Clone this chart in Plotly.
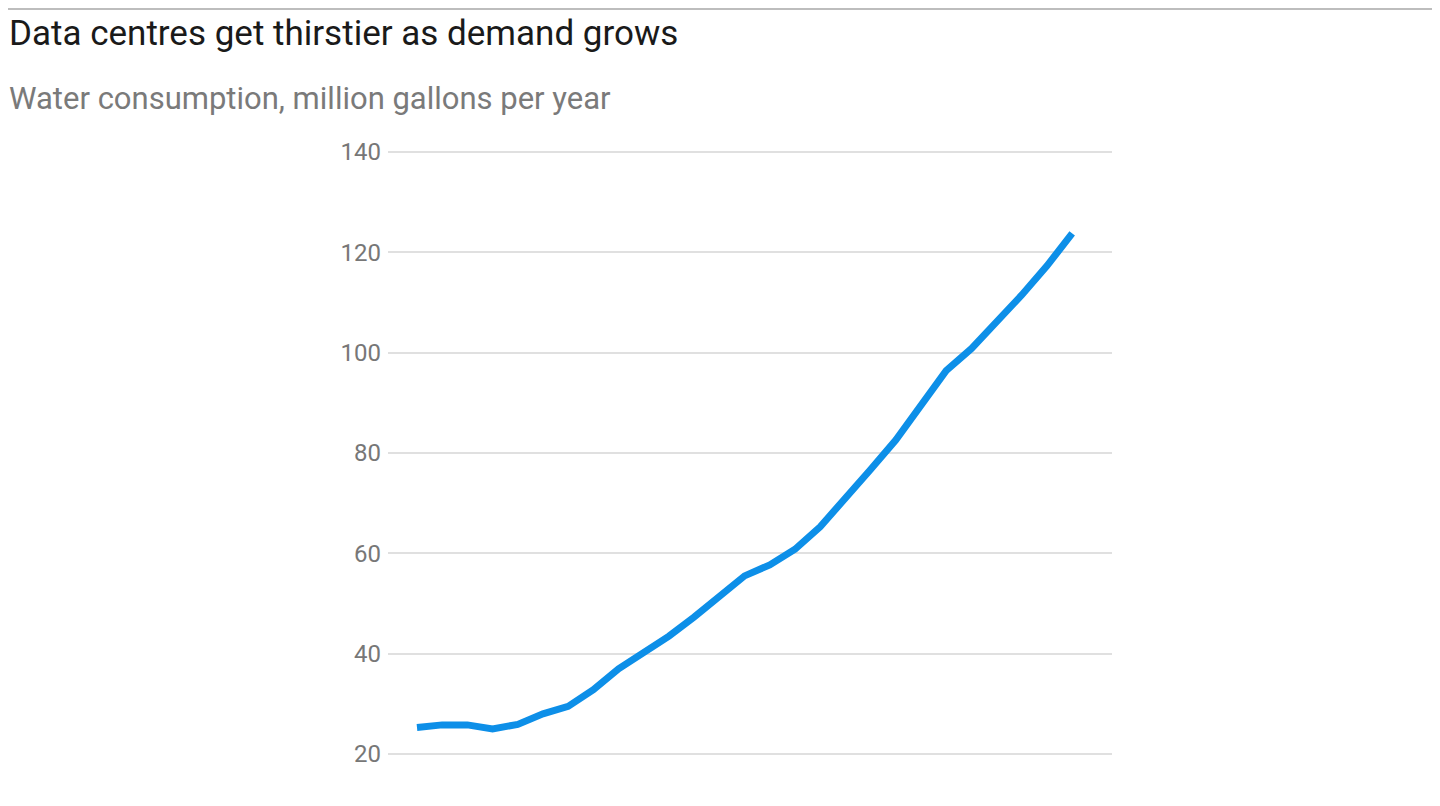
import plotly.graph_objects as go

# periods are unlabelled in the source chart, so just an index
periods = list(range(27))
water_use = [25.3, 25.8, 25.8, 25.0, 25.9, 28.0, 29.5, 32.8, 37.0, 40.3,
             43.5, 47.3, 51.3, 55.5, 57.7, 60.8, 65.3, 70.8, 76.7, 82.6,
             89.8, 96.4, 100.8, 106.0, 111.5, 117.3, 123.8]
y_ticks = [20, 40, 60, 80, 100, 120, 140]

# the page body has an 8px margin, so the figure is a bit smaller
W, H = 1432, 798
L, R, T, B = 380, 328, 139, 47
pw, ph = W - L - R, H - T - B


def px_x(p):
    return (p - L) / pw


def px_y(p):
    return (H - B - p) / ph


fig = go.Figure(go.Scatter(
    x=periods,
    y=water_use,
    mode="lines",
    line=dict(color="#0d8fe8", width=7),
    hoverinfo="skip",
))

fig.add_shape(type="line", xref="paper", yref="paper",
              x0=px_x(0), x1=px_x(W), y0=px_y(1), y1=px_y(1),
              line=dict(color="#bdbdbd", width=2))

fig.add_annotation(
    text="Data centres get thirstier as demand grows",
    xref="paper", yref="paper", x=px_x(-1), y=px_y(25),
    xanchor="left", yanchor="middle", showarrow=False,
    font=dict(family="Roboto, Inter, sans-serif", size=35, color="#1a1a1a"),
)
fig.add_annotation(
    text="Water consumption, million gallons per year",
    xref="paper", yref="paper", x=px_x(-1), y=px_y(90),
    xanchor="left", yanchor="middle", showarrow=False,
    font=dict(family="Roboto, Inter, sans-serif", size=31, color="#7a7a7a"),
)

fig.update_layout(
    width=W, height=H,
    margin=dict(l=L, r=R, t=T, b=B, pad=0),
    paper_bgcolor="white",
    plot_bgcolor="white",
    showlegend=False,
    xaxis=dict(
        range=[-1.15, 27.58],
        visible=False,
        showgrid=False,
        zeroline=False,
    ),
    yaxis=dict(
        range=[19, 141],
        tickvals=y_ticks,
        showgrid=True,
        gridcolor="#e0e0e0",
        gridwidth=2,
        zeroline=False,
        showline=False,
        ticks="",
        ticklabelstandoff=6,
        tickfont=dict(family="Roboto, sans-serif", size=24, color="#777777"),
    ),
)

fig.write_html("out.html")
